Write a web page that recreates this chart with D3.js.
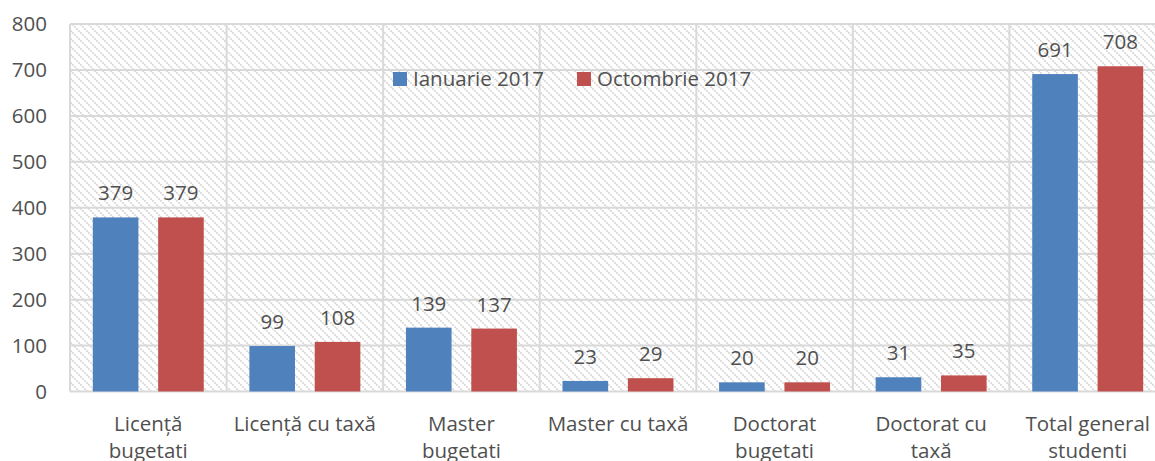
<!DOCTYPE html>
<html><head><meta charset="utf-8">
<script src="https://cdn.jsdelivr.net/npm/d3@7"></script>
<style>body{margin:0;background:#fff;overflow:hidden}svg{display:block}text{font-family:"Open Sans",sans-serif;fill:#505050}</style>
</head><body><svg id="c" width="1155" height="461"></svg>
<script>
const categories = [["Licență","bugetati"],["Licență cu taxă"],["Master","bugetati"],["Master cu taxă"],["Doctorat","bugetati"],["Doctorat cu","taxă"],["Total general","studenti"]];
const seriesNames = ["Ianuarie 2017","Octombrie 2017"];
const ianuarie = [379,99,139,23,20,31,691];
const octombrie = [379,108,137,29,20,35,708];
const yTicks = [0,100,200,300,400,500,600,700,800];
const colors = ["#4f81bd","#c0504d"];

const svg = d3.select("#c");
const L=70, R=1166, T=24, B=391.5;
const x = d3.scaleBand().domain(d3.range(categories.length)).range([L,R]).paddingInner(0).paddingOuter(0);
const y = d3.scaleLinear().domain([0,800]).range([B,T]);

const defs = svg.append("defs");
const pat = defs.append("pattern").attr("id","hatch").attr("patternUnits","userSpaceOnUse").attr("width",8).attr("height",8);
pat.append("path").attr("d","M-2,-2 L10,10 M-2,6 L2,10 M6,-2 L10,2").attr("stroke","#d6d6d6").attr("stroke-width",1.7).attr("stroke-dasharray","2,1");

svg.append("rect").attr("x",L).attr("y",T).attr("width",R-L).attr("height",B-T).attr("fill","url(#hatch)");

// grid
svg.append("g").selectAll("line").data(yTicks).join("line")
 .attr("x1",L).attr("x2",R).attr("y1",d=>y(d)).attr("y2",d=>y(d))
 .attr("stroke","#d9d9d9").attr("stroke-width",2);
svg.append("g").selectAll("line").data(d3.range(categories.length+1)).join("line")
 .attr("x1",i=>L+i*x.bandwidth()).attr("x2",i=>L+i*x.bandwidth()).attr("y1",T).attr("y2",B)
 .attr("stroke","#d9d9d9").attr("stroke-width",2);

// y axis labels
svg.append("g").selectAll("text").data(yTicks).join("text")
 .attr("x",47).attr("y",d=>y(d)).attr("dy","0.35em").attr("text-anchor","end")
 .style("font-size","20.5px").text(d=>d);

const x1 = d3.scaleBand().domain([0,1]).range([0,x.bandwidth()]).paddingInner(0.302).paddingOuter(0.349);
const data = [ianuarie, octombrie];
data.forEach((vals,s)=>{
  const g = svg.append("g");
  g.selectAll("rect").data(vals).join("rect")
   .attr("x",(d,i)=>x(i)+x1(s)).attr("width",x1.bandwidth())
   .attr("y",d=>y(d)).attr("height",d=>B-y(d)).attr("fill",colors[s]);
  g.selectAll("text").data(vals).join("text")
   .attr("x",(d,i)=>x(i)+x1(s)+x1.bandwidth()/2).attr("y",d=>y(d)-17)
   .attr("text-anchor","middle").style("font-size","20.5px").text(d=>d);
});

// category labels
const cg = svg.append("g");
categories.forEach((lines,i)=>{
  const t = cg.append("text").attr("x",x(i)+x.bandwidth()/2).attr("y",431).attr("text-anchor","middle").style("font-size","20.5px");
  lines.forEach((ln,k)=>t.append("tspan").attr("x",x(i)+x.bandwidth()/2).attr("dy",k?27:0).text(ln));
});

// legend
const legX = [393,577];
seriesNames.forEach((n,s)=>{
  svg.append("rect").attr("x",legX[s]).attr("y",72).attr("width",14).attr("height",14).attr("fill",colors[s]);
  svg.append("text").attr("x",legX[s]+20).attr("y",79).attr("dy","0.35em").style("font-size","20.5px").text(n);
});
</script></body></html>
